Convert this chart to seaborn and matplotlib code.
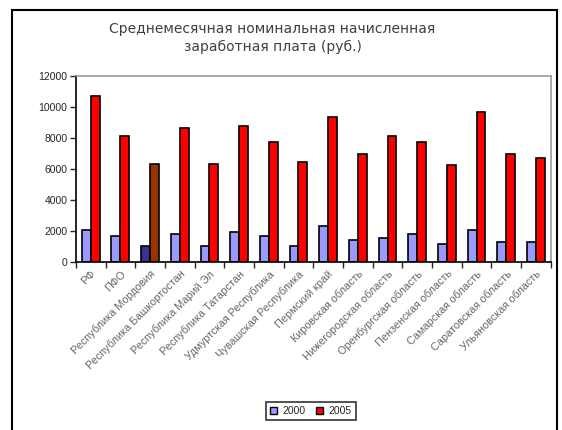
import numpy as np
import pandas as pd
import seaborn as sns
import matplotlib.pyplot as plt
from matplotlib.patches import Rectangle

regions = ["РФ", "ПФО", "Республика Мордовия", "Республика Башкортостан",
           "Республика Марий Эл", "Республика Татарстан", "Удмуртская Республика",
           "Чувашская Республика", "Пермский край", "Кировская область",
           "Нижегородская область", "Оренбургская область", "Пензенская область",
           "Самарская область", "Саратовская область", "Ульяновская область"]
wage_2000 = [2060, 1690, 1050, 1820, 1050, 1950, 1690, 1050,
             2300, 1400, 1510, 1790, 1140, 2030, 1270, 1270]
wage_2005 = [10690, 8100, 6300, 8640, 6300, 8770, 7740, 6450,
             9370, 6940, 8120, 7730, 6290, 9650, 6940, 6680]
years = ["2000", "2005"]

df = pd.DataFrame({
    "region": regions * 2,
    "year": [years[0]] * len(regions) + [years[1]] * len(regions),
    "wage": wage_2000 + wage_2005,
})

sns.set_style("white")
plt.rcParams["font.family"] = ["Liberation Sans", "DejaVu Sans"]

fig = plt.figure(figsize=(5.62, 4.30), dpi=100)
ax = fig.add_axes([0.135, 0.391, 0.845, 0.432])

sns.barplot(data=df, x="region", y="wage", hue="year", order=regions,
            palette=["#9999FF", "#FF0000"], saturation=1, width=0.6, gap=0,
            edgecolor="black", linewidth=1.2, ax=ax, legend=True)

# highlighted region (Мордовия)
ax.containers[0][2].set_facecolor("#333399")
ax.containers[1][2].set_facecolor("#993300")

ax.set_ylim(0, 12000)
ax.set_xlim(-0.5, len(regions) - 0.5)
ax.set_yticks(np.arange(0, 12001, 2000))
ax.set_xlabel("")
ax.set_ylabel("")
ax.tick_params(axis="y", labelsize=7.5, length=4, width=1, direction="out",
               left=True, pad=2)
ax.tick_params(axis="x", which="major", length=0, labelsize=7.8,
               labelcolor="#666666", pad=5)
ax.set_xticks(np.arange(-0.5, len(regions)), minor=True)
ax.tick_params(axis="x", which="minor", length=4, width=1, bottom=True)
plt.setp(ax.get_xticklabels(), rotation=45, ha="right", rotation_mode="anchor")

for s in ["left", "bottom"]:
    ax.spines[s].set_color("black")
    ax.spines[s].set_linewidth(1.2)
for s in ["top", "right"]:
    ax.spines[s].set_color("#999999")
    ax.spines[s].set_linewidth(1.2)

fig.text(0.485, 0.912, "Среднемесячная номинальная начисленная\nзаработная плата (руб.)",
         ha="center", va="center", fontsize=10, color="#404040",
         family="DejaVu Sans", linespacing=1.4)

ax.get_legend().remove()
handles = [Rectangle((0, 0), 1, 1, facecolor=c, edgecolor="black", linewidth=1)
           for c in ["#9999FF", "#FF0000"]]
leg = fig.legend(handles, years, loc="center", bbox_to_anchor=(0.553, 0.044),
                 ncol=2, fontsize=7.5, frameon=True, fancybox=False,
                 handlelength=0.7, handleheight=0.7, handletextpad=0.5,
                 columnspacing=1.0, borderpad=0.4)
leg.get_frame().set_edgecolor("black")
leg.get_frame().set_linewidth(1.2)

fig.patches.append(Rectangle((12 / 562, -0.02), 545 / 562, 0.997,
                             transform=fig.transFigure, fill=False,
                             edgecolor="black", linewidth=1.5))

fig.savefig("out.png", dpi=100)
